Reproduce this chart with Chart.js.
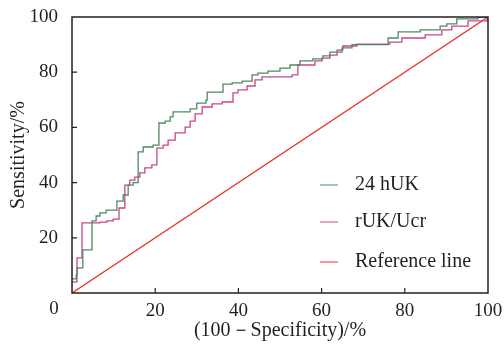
<!DOCTYPE html>
<html>
<head>
<meta charset="utf-8">
<script src="https://cdn.jsdelivr.net/npm/chart.js@4.4.1/dist/chart.umd.min.js"></script>
<style>
  html, body { margin: 0; padding: 0; background: #fff; }
</style>
</head>
<body>
<canvas id="roc" width="504" height="345"></canvas>
<script>
// ROC data, (100 - specificity) % vs sensitivity %
var fpr24h = [0, 1.0, 1.2, 2.6, 4.8, 5.8, 6.7, 8.2, 10.8, 12.3, 13.5, 14.7, 15.9, 17.1, 19.5, 20.9, 22.4, 23.6, 24.3, 28.4, 30.0, 32.2, 32.5, 36.3, 38.5, 40.9, 43.3, 44.7, 47.1, 50.0, 52.4, 54.8, 57.9, 60.3, 62.0, 64.9, 67.3, 76.0, 78.4, 83.7, 88.5, 90.1, 92.5, 97.6, 100];
var sens24h = [5.1, 6.5, 9.1, 15.6, 26.1, 27.9, 29.0, 30.0, 33.3, 35.5, 39.1, 40.0, 51.1, 52.9, 53.6, 61.6, 62.3, 63.8, 65.6, 66.7, 68.8, 69.9, 72.8, 75.7, 76.1, 76.8, 79.0, 79.7, 80.4, 81.5, 82.6, 84.1, 84.8, 85.9, 87.3, 88.8, 90.0, 92.4, 94.6, 95.3, 96.7, 97.5, 99.3, 100, 100];

var fprRatio = [0, 1.2, 2.4, 6.7, 8.4, 9.9, 11.3, 12.7, 13.9, 15.1, 16.3, 17.5, 19.2, 20.4, 21.9, 23.1, 24.8, 27.2, 28.4, 29.6, 31.3, 33.7, 36.1, 38.7, 39.9, 42.1, 44.0, 45.7, 52.9, 54.3, 58.4, 60.1, 62.0, 63.7, 65.1, 68.5, 76.4, 79.3, 84.9, 88.9, 91.3, 95.2, 99.8, 100];
var sensRatio = [4.0, 12.7, 25.4, 25.7, 26.1, 26.8, 30.8, 39.1, 40.9, 42.0, 43.5, 45.3, 46.4, 52.5, 53.6, 55.4, 58.0, 60.1, 62.3, 64.9, 67.4, 68.5, 69.2, 72.5, 73.6, 75.0, 77.2, 78.3, 79.0, 82.6, 84.1, 85.1, 86.2, 88.0, 89.5, 90.2, 90.9, 92.4, 93.5, 95.3, 96.7, 98.6, 100, 100];

var refX = [0, 100];
var refY = [0, 100];

var seriesNames = ["24 hUK", "rUK/Ucr", "Reference line"];
var tickValues = [0, 20, 40, 60, 80, 100];

var INK = '#231f20';
var FONT = 'Liberation Serif';

function toPoints(xs, ys) {
	var pts = [];
	for (var i = 0; i < xs.length; i++) {
		pts.push({x: xs[i], y: ys[i]});
	}
	return pts;
}

// box, inward ticks, shared "0" and the legend
var framePlugin = {
	id: 'frame',
	afterDraw: function(chart) {
		var ctx = chart.ctx;
		var a = chart.chartArea;
		var xs = chart.scales.x, ys = chart.scales.y;
		ctx.save();
		ctx.strokeStyle = INK;
		ctx.lineWidth = 1.5;
		ctx.strokeRect(a.left, a.top, a.right - a.left, a.bottom - a.top);
		ctx.lineWidth = 1.2;
		ctx.beginPath();
		tickValues.forEach(function(v) {
			if (v === 0 || v === 100) return;
			var px = xs.getPixelForValue(v);
			ctx.moveTo(px, a.bottom);
			ctx.lineTo(px, a.bottom - 5);
			var py = ys.getPixelForValue(v);
			ctx.moveTo(a.left, py);
			ctx.lineTo(a.left + 5, py);
		});
		ctx.stroke();

		ctx.fillStyle = INK;
		ctx.font = '19px "' + FONT + '"';
		ctx.textAlign = 'center';
		ctx.textBaseline = 'middle';
		ctx.fillText('0', 54, 309);

		var rows = [185, 222, 262];
		ctx.font = '20px "' + FONT + '"';
		ctx.textAlign = 'left';
		chart.data.datasets.forEach(function(ds, i) {
			ctx.strokeStyle = ds.borderColor;
			ctx.lineWidth = 1;
			ctx.beginPath();
			ctx.moveTo(320, rows[i]);
			ctx.lineTo(338, rows[i]);
			ctx.stroke();
			ctx.fillStyle = INK;
			ctx.fillText(ds.label, 355, rows[i]);
		});
		ctx.restore();
	}
};

var chart = new Chart(document.getElementById('roc'), {
	type: 'line',
	data: {
		datasets: [{
			label: seriesNames[0],
			data: toPoints(fpr24h, sens24h),
			borderColor: '#4f8a5f',
			borderWidth: 1.3,
			stepped: true,
			pointRadius: 0
		}, {
			label: seriesNames[1],
			data: toPoints(fprRatio, sensRatio),
			borderColor: '#c9478a',
			borderWidth: 1.3,
			stepped: true,
			pointRadius: 0
		}, {
			label: seriesNames[2],
			data: toPoints(refX, refY),
			borderColor: '#e8302a',
			borderWidth: 1.3,
			pointRadius: 0
		}]
	},
	options: {
		responsive: false,
		animation: false,
		layout: { padding: { top: 17, right: 16, left: 0, bottom: 0 } },
		plugins: {
			legend: { display: false },
			tooltip: { enabled: false }
		},
		scales: {
			x: {
				type: 'linear',
				min: 0,
				max: 100,
				afterBuildTicks: function(s) { s.ticks = tickValues.map(function(v) { return {value: v}; }); },
				afterFit: function(s) { s.height = 52; s.paddingLeft = 0; s.paddingRight = 0; },
				grid: { display: false, drawTicks: false },
				border: { display: false },
				ticks: {
					padding: 7,
					color: INK,
					font: { family: FONT, size: 19 },
					maxRotation: 0,
					callback: function(v) { return v === 0 ? '' : v; }
				},
				title: {
					display: true,
					text: '(100\uFF0DSpecificity)/%',
					color: INK,
					font: { family: FONT, size: 20 },
					padding: { top: 0, bottom: 2 }
				}
			},
			y: {
				type: 'linear',
				min: 0,
				max: 100,
				afterBuildTicks: function(s) { s.ticks = tickValues.map(function(v) { return {value: v}; }); },
				afterFit: function(s) { s.width = 72; s.paddingTop = 0; s.paddingBottom = 0; },
				grid: { display: false, drawTicks: false },
				border: { display: false },
				ticks: {
					padding: 14,
					color: INK,
					font: { family: FONT, size: 19 },
					callback: function(v) { return v === 0 ? '' : v; }
				},
				title: {
					display: true,
					text: 'Sensitivity/%',
					color: INK,
					font: { family: FONT, size: 20 },
					padding: { top: 7, bottom: 0 }
				}
			}
		}
	},
	plugins: [framePlugin]
});
</script>
</body>
</html>
